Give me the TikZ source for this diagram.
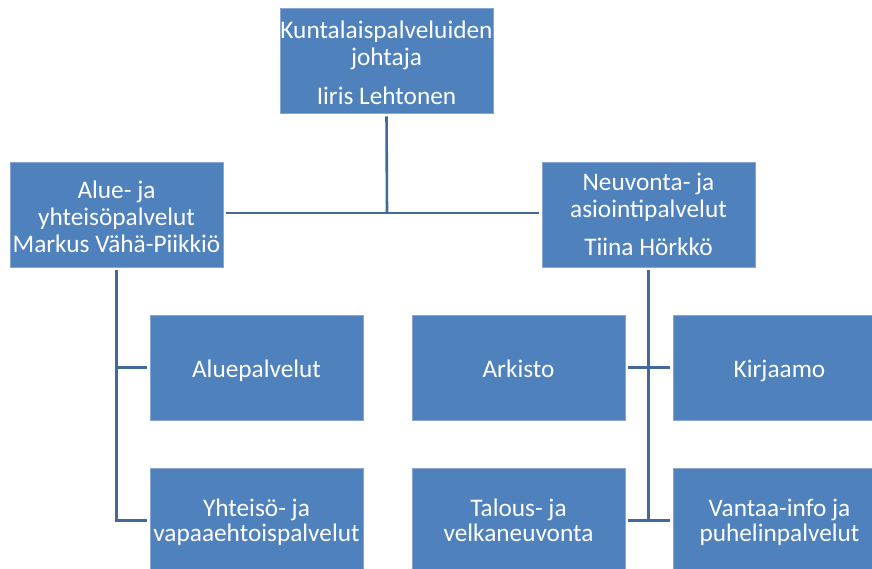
\documentclass[tikz,border=0pt]{standalone}
\usepackage{fontspec}
\setmainfont{Carlito}
\definecolor{boxfill}{RGB}{79,129,189}
\definecolor{boxedge}{RGB}{135,165,208}
\definecolor{conncol}{RGB}{65,106,155}
\begin{document}
\begin{tikzpicture}[x=1pt,y=-1pt,
  orgbox/.style={fill=boxfill,draw=boxedge,line width=0.8pt,text=white,align=center,
    inner sep=0pt,font=\fontsize{25.3}{27}\selectfont,minimum width=213pt,minimum height=105pt,
    text depth=5pt},
  connector/.style={draw=conncol,line width=2.6pt}]
\useasboundingbox (0,0) rectangle (872,569);
\clip (0,0) rectangle (872,569);

\node[orgbox,text height=93pt] (top) at (386.5,60.5) {Kuntalaispalveluiden\\johtaja\\[11.7pt]Iiris Lehtonen};
\node[orgbox,text height=80pt] (left) at (116.5,214.5) {Alue- ja\\yhteisöpalvelut\\Markus Vähä-Piikkiö};
\node[orgbox,text height=86pt] (right) at (648.5,214.5) {Neuvonta- ja\\asiointipalvelut\\[11pt]Tiina Hörkkö};
\node[orgbox,text height=19pt,text depth=0pt] (alue) at (256.5,367.5) {Aluepalvelut};
\node[orgbox,text height=19pt,text depth=0pt] (arkisto) at (518.5,367.5) {Arkisto};
\node[orgbox,text height=19pt,text depth=0pt] (kirjaamo) at (779.5,367.5) {Kirjaamo};
\node[orgbox,text height=47.4pt] (yhteiso) at (256.5,520.5) {Yhteisö- ja\\[-2pt]vapaaehtoispalvelut};
\node[orgbox,text height=47.4pt] (talous) at (518.5,520.5) {Talous- ja\\[-2pt]velkaneuvonta};
\node[orgbox,text height=47.4pt] (vantaa) at (779.5,520.5) {Vantaa-info ja\\[-2pt]puhelinpalvelut};

\coordinate (hj) at (387,213);
\draw[connector,shorten <=3pt] (top.south) -- (hj);
\draw[connector,shorten <=3pt,shorten >=3pt] (left.east |- hj) -- (right.west |- hj);

\draw[connector,shorten <=3pt,shorten >=3pt] (left.south) -- (left.south |- yhteiso.west) -- (yhteiso.west);
\draw[connector,shorten >=3pt] (left.south |- alue.west) -- (alue.west);

\draw[connector,shorten <=3pt] (right.south) -- (right.south |- talous.east);
\draw[connector,shorten <=3pt,shorten >=3pt] (arkisto.east) -- (kirjaamo.west);
\draw[connector,shorten <=3pt,shorten >=3pt] (talous.east) -- (vantaa.west);
\end{tikzpicture}
\end{document}
